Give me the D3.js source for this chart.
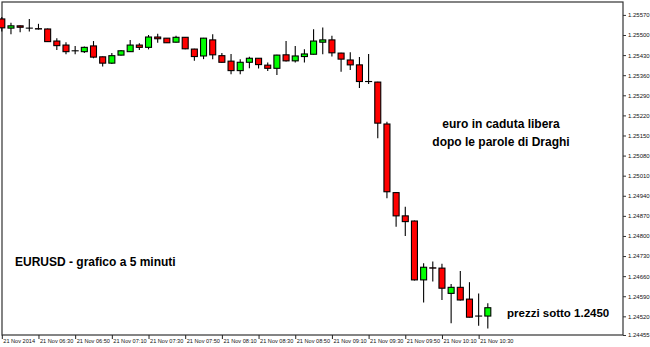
<!DOCTYPE html>
<html>
<head>
<meta charset="utf-8">
<script src="https://cdn.jsdelivr.net/npm/d3@7"></script>
<style>
  body { margin: 0; background: #fff; }
  svg { display: block; font-family: "Liberation Sans", Arial, sans-serif; }
</style>
</head>
<body>
<div id="chart"></div>
<script>
// EURUSD 5 minute bars, 21 Nov 2014 06:10 -> 10:35
const opens = [
  1.25556, 1.25524, 1.25532, 1.25524, 1.25522, 1.25521, 1.25479, 1.25465, 1.25445, 1.25442,
  1.25462, 1.25424, 1.25402, 1.25430, 1.25442, 1.25465, 1.25457, 1.25493, 1.25489, 1.25475,
  1.25492, 1.25451, 1.25427, 1.25483, 1.25428, 1.25409, 1.25376, 1.25405, 1.25419, 1.25395,
  1.25384, 1.25431, 1.25410, 1.25425, 1.25433, 1.25475, 1.25483, 1.25437, 1.25413, 1.25396,
  1.25338, 1.25336, 1.25190, 1.24951, 1.24870, 1.24852, 1.24647, 1.24689, 1.24688, 1.24600,
  1.24621, 1.24580, 1.24521, 1.24521
];
const highs = [
  1.25563, 1.25543, 1.25533, 1.25556, 1.25539, 1.25523, 1.25489, 1.25475, 1.25462, 1.25460,
  1.25479, 1.25425, 1.25437, 1.25448, 1.25483, 1.25471, 1.25500, 1.25504, 1.25490, 1.25497,
  1.25493, 1.25452, 1.25490, 1.25503, 1.25437, 1.25434, 1.25416, 1.25424, 1.25420, 1.25404,
  1.25431, 1.25479, 1.25462, 1.25450, 1.25520, 1.25526, 1.25497, 1.25438, 1.25440, 1.25423,
  1.25434, 1.25337, 1.25198, 1.24952, 1.24902, 1.24854, 1.24705, 1.24711, 1.24703, 1.24633,
  1.24678, 1.24639, 1.24600, 1.24566
];
const lows = [
  1.25512, 1.25503, 1.25510, 1.25512, 1.25519, 1.25476, 1.25448, 1.25433, 1.25433, 1.25437,
  1.25419, 1.25390, 1.25399, 1.25429, 1.25441, 1.25448, 1.25450, 1.25473, 1.25472, 1.25474,
  1.25450, 1.25410, 1.25416, 1.25416, 1.25403, 1.25363, 1.25363, 1.25384, 1.25383, 1.25375,
  1.25361, 1.25408, 1.25404, 1.25404, 1.25432, 1.25433, 1.25425, 1.25372, 1.25378, 1.25315,
  1.25329, 1.25140, 1.24931, 1.24832, 1.24800, 1.24645, 1.24568, 1.24641, 1.24577, 1.24496,
  1.24575, 1.24516, 1.24487, 1.24478
];
const closes = [
  1.25525, 1.25532, 1.25527, 1.25524, 1.25521, 1.25477, 1.25463, 1.25442, 1.25445, 1.25457,
  1.25423, 1.25402, 1.25428, 1.25445, 1.25465, 1.25457, 1.25493, 1.25487, 1.25473, 1.25492,
  1.25452, 1.25425, 1.25489, 1.25431, 1.25405, 1.25376, 1.25405, 1.25419, 1.25397, 1.25384,
  1.25430, 1.25410, 1.25427, 1.25434, 1.25479, 1.25483, 1.25438, 1.25416, 1.25396, 1.25338,
  1.25338, 1.25193, 1.24954, 1.24870, 1.24850, 1.24647, 1.24691, 1.24688, 1.24618, 1.24621,
  1.24577, 1.24517, 1.24521, 1.24550
];

const xTickLabels = [
  "21 Nov 2014", "21 Nov 06:30", "21 Nov 06:50", "21 Nov 07:10", "21 Nov 07:30",
  "21 Nov 07:50", "21 Nov 08:10", "21 Nov 08:30", "21 Nov 08:50", "21 Nov 09:10",
  "21 Nov 09:30", "21 Nov 09:50", "21 Nov 10:10", "21 Nov 10:30"
];
const yTickValues = [
  1.25570, 1.25500, 1.25430, 1.25360, 1.25290, 1.25220, 1.25150, 1.25080, 1.25010,
  1.24940, 1.24870, 1.24800, 1.24730, 1.24660, 1.24590, 1.24520, 1.24455
];
const priceMin = 1.24455;
const priceMax = 1.25615;

const notes = [
  { text: "euro in caduta libera", x: 501, y: 128, anchor: "middle", size: 12 },
  { text: "dopo le parole di Draghi", x: 501, y: 146, anchor: "middle", size: 12 },
  { text: "EURUSD - grafico a 5 minuti", x: 15, y: 266, anchor: "start", size: 12 },
  { text: "prezzi sotto 1.2450", x: 507, y: 317, anchor: "start", size: 11.5 }
];

const width = 650, height = 347;
const plot = { left: 2, top: 2, right: 623, bottom: 335 };
const barStep = 9.17;

const bars = opens.map((o, i) => ({ i, o, h: highs[i], l: lows[i], c: closes[i] }));

const x = d3.scaleLinear()
    .domain([0, 52])
    .range([1.8, 1.8 + 52 * barStep]);
const y = d3.scaleLinear()
    .domain([priceMin, priceMax])
    .range([plot.bottom, plot.top]);

const svg = d3.select("#chart").append("svg")
    .attr("width", width)
    .attr("height", height);

// frame
svg.append("rect")
    .attr("x", plot.left).attr("y", plot.top)
    .attr("width", plot.right - plot.left)
    .attr("height", plot.bottom - plot.top)
    .attr("fill", "none")
    .attr("stroke", "#333")
    .attr("stroke-width", 1.2);

// y axis on the right
const yAxis = d3.axisRight(y)
    .tickValues(yTickValues)
    .tickFormat(d3.format(".5f"))
    .tickSize(3)
    .tickPadding(2);
const yAxisG = svg.append("g")
    .attr("transform", `translate(${plot.right},0)`)
    .call(yAxis);
yAxisG.select(".domain").remove();
yAxisG.selectAll("line").attr("stroke", "#333");
yAxisG.selectAll("text")
    .attr("font-size", 6)
    .attr("font-family", "Liberation Sans, Arial, sans-serif")
    .attr("fill", "#111");

// x axis
const xAxis = d3.axisBottom(x)
    .tickValues(d3.range(0, 53, 4))
    .tickFormat((d, i) => xTickLabels[i])
    .tickSize(4)
    .tickPadding(0);
const xAxisG = svg.append("g")
    .attr("transform", `translate(0,${plot.bottom})`)
    .call(xAxis);
xAxisG.select(".domain").remove();
xAxisG.selectAll("line").attr("stroke", "#222");
xAxisG.selectAll("text")
    .attr("text-anchor", "start")
    .attr("dx", 1)
    .attr("font-size", 5.6)
    .attr("font-family", "Liberation Sans, Arial, sans-serif")
    .attr("fill", "#111");

// candles
const g = svg.append("g").attr("class", "candles");
const candle = g.selectAll("g.bar")
    .data(bars)
    .enter().append("g")
    .attr("class", "bar");

candle.append("line")
    .attr("x1", d => x(d.i)).attr("x2", d => x(d.i))
    .attr("y1", d => y(d.h)).attr("y2", d => y(d.l))
    .attr("stroke", "#000")
    .attr("stroke-width", 1.1);

candle.append("rect")
    .attr("x", d => x(d.i) - 3)
    .attr("width", 6)
    .attr("y", d => y(Math.max(d.o, d.c)))
    .attr("height", d => Math.max(0.01, Math.abs(y(d.o) - y(d.c))))
    .attr("fill", d => d.c > d.o ? "#00ff00" : d.c < d.o ? "#ff0000" : "none")
    .attr("stroke", "#000")
    .attr("stroke-width", 1.1);

// annotations
svg.selectAll("text.note")
    .data(notes)
    .enter().append("text")
    .attr("class", "note")
    .attr("x", d => d.x)
    .attr("y", d => d.y)
    .attr("text-anchor", d => d.anchor)
    .attr("font-size", d => d.size)
    .attr("font-weight", "bold")
    .attr("fill", "#000")
    .text(d => d.text);
</script>
</body>
</html>
